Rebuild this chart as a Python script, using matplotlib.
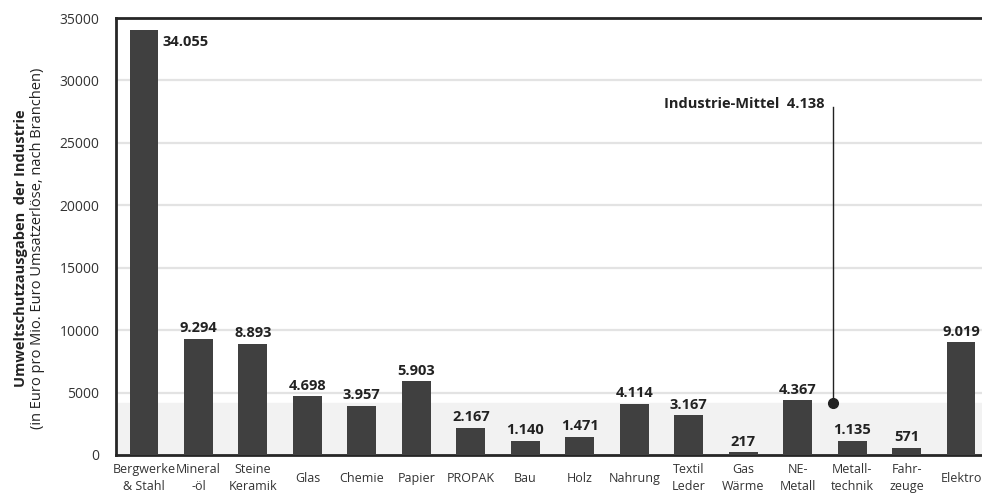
import numpy as np
import matplotlib.pyplot as plt

plt.rcParams['font.family'] = ['Open Sans', 'DejaVu Sans']

branchen = ['Bergwerke\n& Stahl', 'Mineral\n-öl', 'Steine\nKeramik', 'Glas', 'Chemie',
            'Papier', 'PROPAK', 'Bau', 'Holz', 'Nahrung', 'Textil\nLeder', 'Gas\nWärme',
            'NE-\nMetall', 'Metall-\ntechnik', 'Fahr-\nzeuge', 'Elektro']
ausgaben = [34055, 9294, 8893, 4698, 3957, 5903, 2167, 1140, 1471, 4114, 3167, 217,
            4367, 1135, 571, 9019]
mittel = 4138
mittel_pos = 12.65

def de_fmt(v):
    return f'{v:,}'.replace(',', '.')

dark = '#404040'
txt = '#222222'

fig = plt.figure(figsize=(9.82, 4.97), dpi=100)
ax = fig.add_axes([116 / 982, 42 / 497, 873 / 982, 437 / 497])

x = np.arange(len(ausgaben))
ax.axhspan(0, mittel, color='#f2f2f2', zorder=0)
for g in range(5000, 35000, 5000):
    ax.axhline(g, color='#e3e3e3', lw=1.6, zorder=1)

ax.bar(x, ausgaben, width=0.53, color=dark, zorder=3)

for xi, v in zip(x, ausgaben):
    if xi == 0:
        ax.text(xi + 0.34, v - 450, de_fmt(v), ha='left', va='top', fontsize=10.5,
                fontweight='bold', color=txt)
    else:
        ax.text(xi, v + 300, de_fmt(v), ha='center', va='bottom', fontsize=10.5,
                fontweight='bold', color=txt)

# Industrie-Mittel marker
ax.plot([mittel_pos, mittel_pos], [mittel, 27900], color=txt, lw=1, zorder=4)
ax.plot(mittel_pos, mittel, 'o', color=txt, ms=7, zorder=5)
ax.text(mittel_pos - 0.15, 28100, f'Industrie-Mittel  {de_fmt(mittel)}', ha='right',
        va='center', fontsize=10.5, fontweight='bold', color=txt)

ax.set_xlim(-0.514, 15.514)
ax.set_ylim(0, 35000)
ax.set_yticks(range(0, 35001, 5000))
ax.tick_params(axis='y', length=0, labelsize=10, labelcolor='#333333', pad=12)
ax.set_xticks([])
for xi, lab in zip(x, branchen):
    ax.text(xi, -0.053, lab, transform=ax.get_xaxis_transform(), ha='center',
            va='center', fontsize=9, color='#333333', linespacing=1.4,
            clip_on=False)

for s in ['left', 'bottom', 'top']:
    ax.spines[s].set_color('#262626')
    ax.spines[s].set_linewidth(2)
ax.spines['right'].set_visible(False)

fig.text(21 / 982, 0.5, 'Umweltschutzausgaben  der Industrie', rotation=90,
         ha='center', va='center', fontsize=10.5, fontweight='bold', color=txt)
fig.text(38 / 982, 0.5, '(in Euro pro Mio. Euro Umsatzerlöse, nach Branchen)',
         rotation=90, ha='center', va='center', fontsize=10.5, color=txt)

fig.savefig('out.png', dpi=100)
